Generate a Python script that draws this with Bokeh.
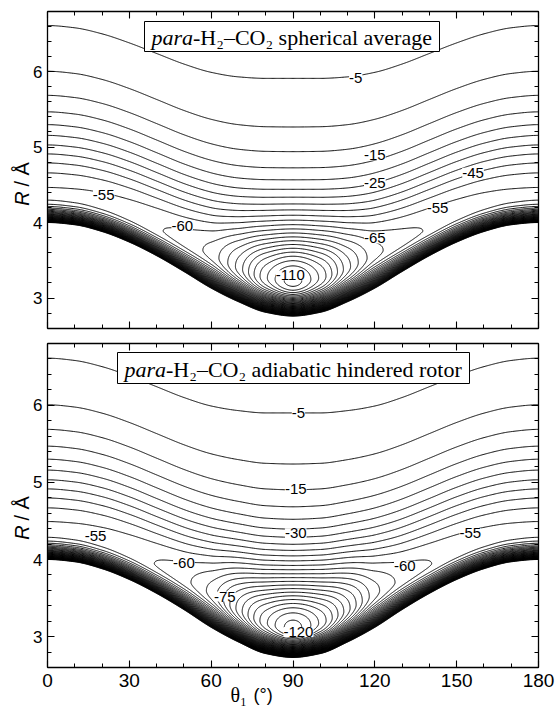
import numpy as np
from bokeh.plotting import figure
from bokeh.layouts import column
from bokeh.models import Range1d, LinearAxis, FixedTicker, Label, BoxAnnotation, ColumnDataSource
from bokeh.core.properties import value
from bokeh.embed import file_html
from bokeh.resources import INLINE

# ---------------- data ----------------
# angular nodes (deg); the surface is symmetric about 90 deg
THETA_NODES = [0, 10, 20, 30, 40, 50, 60, 70, 80, 90]

# upper panel: para-H2-CO2 spherical average
SPH_DEPTH = [56.0, 56.2, 56.8, 57.8, 59.5, 62.0, 67.0, 82.0, 104.0, 117.0]   # well depth (cm-1)
SPH_R_MIN = [4.34, 4.31, 4.23, 4.10, 3.93, 3.75, 3.58, 3.40, 3.27, 3.22]     # R of the minimum (A)
SPH_R_WALL = [4.00, 3.97, 3.88, 3.74, 3.56, 3.35, 3.13, 2.95, 2.81, 2.76]    # R of the innermost contour (A)
SPH_R_M5 = [6.61, 6.58, 6.50, 6.38, 6.24, 6.10, 5.99, 5.93, 5.91, 5.91]      # R of the -5 contour (A)
SPH_LABEL_THETA = [113, 120, 120, 156, 143, 120, 89, 20.6, 49.4]
SPH_LABEL_R = [5.91, 4.89, 4.52, 4.66, 4.19, 3.79, 3.30, 4.37, 3.96]
SPH_LABEL_TEXT = ["-5", "-15", "-25", "-45", "-55", "-65", "-110", "-55", "-60"]

# lower panel: para-H2-CO2 adiabatic hindered rotor
AHR_DEPTH = [56.5, 56.7, 57.3, 58.3, 60.2, 63.5, 72.0, 92.0, 114.0, 127.0]
AHR_R_MIN = [4.34, 4.31, 4.23, 4.10, 3.93, 3.75, 3.56, 3.35, 3.18, 3.11]
AHR_R_WALL = [4.00, 3.97, 3.88, 3.74, 3.56, 3.35, 3.12, 2.93, 2.78, 2.73]
AHR_R_M5 = [6.61, 6.58, 6.50, 6.38, 6.24, 6.10, 5.99, 5.93, 5.90, 5.90]
AHR_LABEL_THETA = [92, 91, 91, 155, 131, 92, 17.6, 50, 65]
AHR_LABEL_R = [5.90, 4.92, 4.34, 4.34, 3.92, 3.06, 4.31, 3.95, 3.52]
AHR_LABEL_TEXT = ["-5", "-15", "-30", "-55", "-60", "-120", "-55", "-60", "-75"]

CONTOUR_STEP = 5
LEVEL_LOW = -130
LEVEL_HIGH = 100
X_TICKS = [0, 30, 60, 90, 120, 150, 180]
Y_TICKS = [3, 4, 5, 6]
THETA_LIM = (0, 180)
R_LIM = (2.6, 6.8)

# ---------------- surface construction ----------------
SHAPE_P = 1.5


def pchip(xn, yn, x):
    xn = np.asarray(xn, float)
    yn = np.asarray(yn, float)
    h = np.diff(xn)
    dl = np.diff(yn) / h
    n = len(xn)
    d = np.zeros(n)
    for k in range(1, n - 1):
        if dl[k - 1] * dl[k] > 0:
            w1 = 2 * h[k] + h[k - 1]
            w2 = h[k] + 2 * h[k - 1]
            d[k] = (w1 + w2) / (w1 / dl[k - 1] + w2 / dl[k])
    d[0] = dl[0]
    d[-1] = dl[-1]
    idx = np.clip(np.searchsorted(xn, x) - 1, 0, n - 2)
    t = (x - xn[idx]) / h[idx]
    h00 = 2 * t**3 - 3 * t**2 + 1
    h10 = t**3 - 2 * t**2 + t
    h01 = -2 * t**3 + 3 * t**2
    h11 = t**3 - t**2
    return h00 * yn[idx] + h10 * h[idx] * d[idx] + h01 * yn[idx + 1] + h11 * h[idx] * d[idx + 1]


def angular(vals, theta):
    pairs = {}
    for t, v in zip(THETA_NODES, vals):
        for tt in (t, -t, 180 - t, 180 + t):
            pairs[round(tt, 6)] = v
    ks = sorted(pairs)
    return pchip(ks, [pairs[k] for k in ks], theta)


def surface(depth, rmin, rwall, rm5, theta, r):
    De = angular(depth, theta)[None, :]
    Re = angular(rmin, theta)[None, :]
    Rw = angular(rwall, theta)[None, :]
    R5 = angular(rm5, theta)[None, :]
    c = ((De / 5.0) ** (1.0 / SHAPE_P) - 1.0) / (R5 - Re) ** 2
    a = np.log(1.0 + np.sqrt((LEVEL_HIGH + De) / De)) / (Re - Rw)
    R = r[:, None]
    outer = -De / (1.0 + c * (R - Re) ** 2) ** SHAPE_P
    inner = -De + De * np.expm1(np.clip(a * (Re - R), 0, 12)) ** 2
    return np.where(R >= Re, outer, inner)


theta_grid = np.linspace(THETA_LIM[0], THETA_LIM[1], 541)
r_grid = np.linspace(R_LIM[0], R_LIM[1], 1261)
levels = list(np.arange(LEVEL_LOW, LEVEL_HIGH + 0.01, CONTOUR_STEP))

# ---------------- layout (pixels of the 555 x 707 page) ----------------
W = 555
FRAME_L, FRAME_R = 47, 538
SX = 180.0 / (FRAME_R - FRAME_L)


def make_panel(H, page_off, f_top, f_bot, depth, rmin, rwall, rm5, lt, lr, ltext,
               title_rest, box_px, r_title_y, show_x):
    ry = (R_LIM[1] - R_LIM[0]) / (f_bot - f_top)

    def tx(px):
        return (px - FRAME_L) * SX

    def ty(py):
        return R_LIM[1] - (py - page_off - f_top) * ry

    p = figure(width=W, height=H,
               x_range=Range1d(tx(0), tx(W)), y_range=Range1d(ty(page_off + H), ty(page_off)),
               output_backend="svg", toolbar_location=None, min_border=0,
               x_axis_type=None, y_axis_type=None, outline_line_color=None,
               background_fill_color="white", border_fill_color="white")

    z = surface(depth, rmin, rwall, rm5, theta_grid, r_grid)
    p.contour(x=theta_grid, y=r_grid, z=z, levels=levels,
              line_color="black", line_width=1.0)

    src = ColumnDataSource(dict(x=lt, y=lr, t=ltext))
    p.text(x="x", y="y", text="t", source=src, text_align="center",
           text_baseline="middle", text_font=value("Liberation Sans"),
           text_font_size="15px", text_color="black",
           background_fill_color="white")

    xt = FixedTicker(ticks=X_TICKS, minor_ticks=list(range(0, 181, 10)))
    yt = FixedTicker(ticks=Y_TICKS, minor_ticks=[round(2.6 + 0.2 * i, 2) for i in range(22)])
    axes = {
        "below": LinearAxis(ticker=xt, fixed_location=R_LIM[0], bounds=THETA_LIM),
        "above": LinearAxis(ticker=xt, fixed_location=R_LIM[1], bounds=THETA_LIM),
        "left": LinearAxis(ticker=yt, fixed_location=THETA_LIM[0], bounds=R_LIM),
        "right": LinearAxis(ticker=yt, fixed_location=THETA_LIM[1], bounds=R_LIM),
    }
    for side, ax in axes.items():
        ax.major_tick_in = 7
        ax.major_tick_out = 0
        ax.minor_tick_in = 4
        ax.minor_tick_out = 0
        ax.axis_line_color = "black"
        ax.axis_line_width = 1.3
        ax.major_tick_line_color = "black"
        ax.major_tick_line_width = 1.1
        ax.minor_tick_line_color = "black"
        ax.major_label_text_font = "Liberation Sans"
        ax.major_label_text_color = "black"
        p.add_layout(ax, side)
    for side in ("above", "right"):
        axes[side].major_label_overrides = {t: "" for t in (X_TICKS if side == "above" else Y_TICKS)}
    if show_x:
        axes["below"].major_label_text_font_size = "19px"
        axes["below"].major_label_standoff = 6
    else:
        axes["below"].major_label_overrides = {t: "" for t in X_TICKS}
    axes["left"].major_label_text_font_size = "17px"
    axes["left"].major_label_standoff = 5

    # title box with mixed italic / upright text
    bx0, bx1, by0, by1 = box_px
    p.add_layout(BoxAnnotation(left=tx(bx0), right=tx(bx1), top=ty(by0), bottom=ty(by1),
                               fill_color="white", fill_alpha=1.0,
                               line_color="black", line_width=1.0, line_alpha=1.0))
    ymid = ty((by0 + by1) / 2.0 + 1)
    x0 = bx0 + 7
    p.add_layout(Label(x=tx(x0), y=ymid, text="para", text_font="Liberation Serif",
                       text_font_style="italic", text_font_size="22px",
                       text_baseline="middle", text_align="left", text_color="black"))
    p.add_layout(Label(x=tx(x0 + 41.5), y=ymid, text=title_rest,
                       text_font="Liberation Serif", text_font_size="22px",
                       text_baseline="middle", text_align="left", text_color="black"))

    # vertical axis title: italic R followed by " / Å"
    p.text(x=[tx(21)], y=[ty(r_title_y)], text=["R"], angle=np.pi / 2,
           text_align="center", text_baseline="middle", text_font=value("Liberation Sans"),
           text_font_style="italic", text_font_size="20px", text_color="black")
    p.text(x=[tx(21)], y=[ty(r_title_y - 12)], text=["/ Å"], angle=np.pi / 2,
           text_align="left", text_baseline="middle", text_font=value("Liberation Sans"),
           text_font_size="20px", text_color="black")

    if show_x:
        p.text(x=[tx(230)], y=[ty(694)], text=["θ₁"], text_align="left",
               text_baseline="middle", text_font=value("Liberation Serif"),
               text_font_size="20px", text_color="black")
        p.text(x=[tx(253)], y=[ty(694)], text=["(°)"], text_align="left",
               text_baseline="middle", text_font=value("Liberation Sans"),
               text_font_size="18px", text_color="black")
    return p


TOP_H = 335
top = make_panel(TOP_H, 0, 10.7, 327.7, SPH_DEPTH, SPH_R_MIN, SPH_R_WALL, SPH_R_M5,
                 SPH_LABEL_THETA, SPH_LABEL_R, SPH_LABEL_TEXT,
                 "-H₂–CO₂ spherical average", (144, 439, 21, 51), 198, False)
bottom = make_panel(707 - TOP_H, TOP_H, 343 - TOP_H, 667 - TOP_H, AHR_DEPTH, AHR_R_MIN,
                    AHR_R_WALL, AHR_R_M5, AHR_LABEL_THETA, AHR_LABEL_R, AHR_LABEL_TEXT,
                    "-H₂–CO₂ adiabatic hindered rotor", (117, 469, 352, 383), 532, True)

layout = column(top, bottom, spacing=0)
open("out.html", "w").write(file_html(layout, INLINE))
